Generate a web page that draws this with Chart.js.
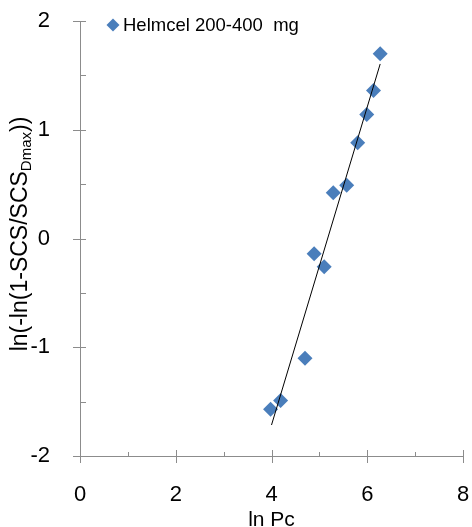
<!DOCTYPE html>
<html lang="en">
<head>
    <meta charset="UTF-8">
    <title>Helmcel 200-400 mg</title>
    <script src="https://cdn.jsdelivr.net/npm/chart.js"></script>
    <style>
        html, body { margin: 0; padding: 0; background: #fff; }
        .wrap { width: 472px; height: 527px; position: relative; }
    </style>
</head>
<body>
    <div class="wrap">
        <canvas id="weibullChart" width="472" height="527"></canvas>
    </div>
    <script>
// measured points (ln Pc vs ln(-ln(1-SCS/SCSDmax)))
const lnPc = [3.98, 4.19, 4.70, 4.89, 5.10, 5.29, 5.57, 5.80, 5.99, 6.13, 6.27];
const lnLnSCS = [-1.57, -1.49, -1.10, -0.14, -0.26, 0.42, 0.49, 0.88, 1.14, 1.36, 1.70];
// fitted line ends
const fitX = [4.00, 6.27];
const fitY = [-1.715, 1.605];
const xTicks = [0, 2, 4, 6, 8];
const yTicks = [-2, -1, 0, 1, 2];
const seriesName = 'Helmcel 200-400  mg';

const font = 'Liberation Sans, Arial, sans-serif';
const axisColor = '#8c8c8c';
const blue = '#4a7ebb';

// axis lines, major/minor ticks, titles and legend
const decorations = {
    id: 'decorations',
    afterDraw(chart) {
        const ctx = chart.ctx;
        const xs = chart.scales.x, ys = chart.scales.y;
        const x0 = xs.getPixelForValue(0), yb = ys.getPixelForValue(-2);
        ctx.save();
        ctx.strokeStyle = axisColor;
        ctx.lineWidth = 1;
        ctx.beginPath();
        // y ticks
        for (let v = -2; v <= 2; v += 0.5) {
            const p = Math.round(ys.getPixelForValue(v)) + 0.5;
            const major = Number.isInteger(v);
            ctx.moveTo(major ? x0 - 7 : x0, p);
            ctx.lineTo(x0 + 6, p);
        }
        // x ticks
        for (let v = 0; v <= 8; v += 1) {
            const p = Math.round(xs.getPixelForValue(v)) + 0.5;
            const major = v % 2 === 0;
            ctx.moveTo(p, yb - (major ? 6 : 4));
            ctx.lineTo(p, major ? yb + 7 : yb);
        }
        ctx.stroke();

        // x title
        ctx.fillStyle = '#000';
        ctx.font = '21px ' + font;
        ctx.textAlign = 'center';
        ctx.textBaseline = 'alphabetic';
        ctx.fillText('ln Pc', (xs.left + xs.right) / 2, 526);

        // y title with subscript
        const main = 'ln(-ln(1-SCS/SCS', sub = 'Dmax', tail = '))';
        const mf = '23px ' + font, sf = '15px ' + font;
        ctx.font = mf;
        const w1 = ctx.measureText(main).width, w3 = ctx.measureText(tail).width;
        ctx.font = sf;
        const w2 = ctx.measureText(sub).width;
        const total = w1 + w2 + w3;
        ctx.translate(27, 234);
        ctx.rotate(-Math.PI / 2);
        ctx.textAlign = 'left';
        let cx = -total / 2;
        ctx.font = mf;
        ctx.fillText(main, cx, 0);
        cx += w1;
        ctx.font = sf;
        ctx.fillText(sub, cx, 4);
        cx += w2;
        ctx.font = mf;
        ctx.fillText(tail, cx, 0);
        ctx.restore();

        // legend
        ctx.save();
        const lx = 113, ly = 25;
        ctx.fillStyle = blue;
        ctx.beginPath();
        ctx.moveTo(lx, ly - 6.5);
        ctx.lineTo(lx + 6.5, ly);
        ctx.lineTo(lx, ly + 6.5);
        ctx.lineTo(lx - 6.5, ly);
        ctx.closePath();
        ctx.fill();
        ctx.fillStyle = '#000';
        ctx.font = '18.5px ' + font;
        ctx.textBaseline = 'middle';
        ctx.textAlign = 'left';
        ctx.fillText(seriesName, 123, ly + 1);
        ctx.restore();
    }
};

const ctx = document.getElementById('weibullChart').getContext('2d');
const chart = new Chart(ctx, {
    type: 'scatter',
    data: {
        datasets: [{
            label: seriesName,
            data: lnPc.map((x, i) => ({ x: x, y: lnLnSCS[i] })),
            pointStyle: 'rectRot',
            pointRadius: 7.5,
            pointBackgroundColor: blue,
            pointBorderWidth: 0,
            order: 1
        }, {
            label: 'fit',
            type: 'line',
            data: fitX.map((x, i) => ({ x: x, y: fitY[i] })),
            borderColor: '#000',
            borderWidth: 1,
            pointRadius: 0,
            fill: false,
            order: 0
        }]
    },
    options: {
        responsive: false,
        animation: false,
        events: [],
        layout: { padding: { top: 21, right: 9, left: 0, bottom: 0 } },
        plugins: { legend: { display: false }, tooltip: { enabled: false } },
        scales: {
            x: {
                type: 'linear',
                min: 0, max: 8,
                afterBuildTicks: s => { s.ticks = xTicks.map(v => ({ value: v })); },
                afterFit: s => { s.height = 71; s.paddingLeft = 0; s.paddingRight = 0; },
                grid: { display: false },
                border: { display: true, color: axisColor },
                ticks: { color: '#000', font: { family: font, size: 22 }, padding: 18, maxRotation: 0 }
            },
            y: {
                type: 'linear',
                min: -2, max: 2,
                afterBuildTicks: s => { s.ticks = yTicks.map(v => ({ value: v })); },
                afterFit: s => { s.width = 80; s.paddingTop = 0; s.paddingBottom = 0; },
                grid: { display: false },
                border: { display: true, color: axisColor },
                ticks: { color: '#000', font: { family: font, size: 22 }, padding: 22 }
            }
        }
    },
    plugins: [decorations]
});
    </script>
</body>
</html>
